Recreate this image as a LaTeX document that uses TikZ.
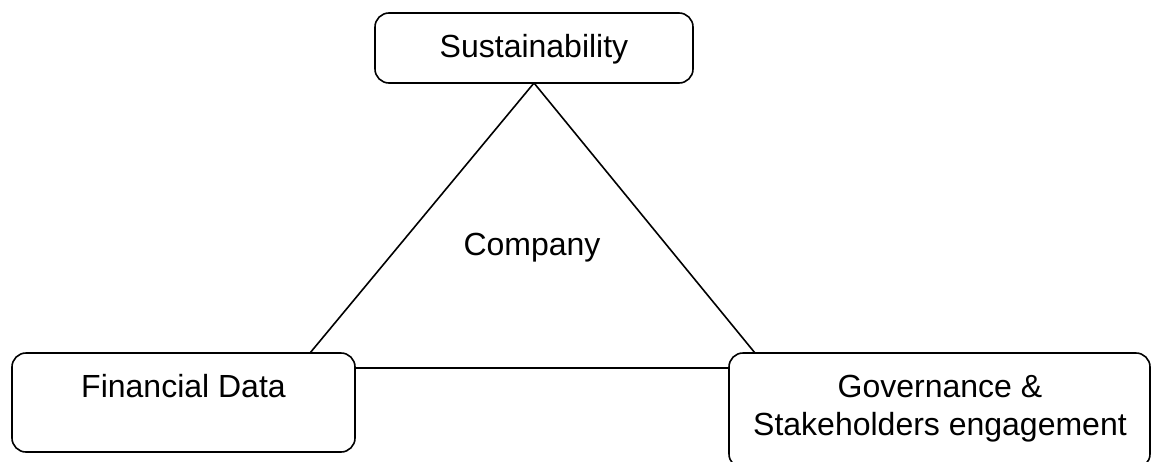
\documentclass[tikz,border=0pt]{standalone}
\usepackage{fontspec}
\setmainfont{Liberation Sans}
\usetikzlibrary{calc}
\begin{document}
\begin{tikzpicture}[x=1pt,y=-1pt,
  box/.style={draw, line width=1.6pt, rounded corners=14pt, inner sep=0pt, outer sep=0pt},
  txt/.style={inner sep=0pt, outer sep=0pt, anchor=base, font=\fontsize{32}{37}\selectfont},
  link/.style={line width=1.6pt}]
\fill[white] (0,0) rectangle (1153,461);
\useasboundingbox (0,0) rectangle (1153,461);
\node[box, minimum width=318pt, minimum height=70pt] (sus) at (534,48) {};
\node[box, minimum width=343pt, minimum height=99pt] (fin) at (183.5,402.5) {};
\node[box, minimum width=421pt, minimum height=115pt] (gov) at (939.5,410.5) {};
\node[txt] (sustxt) at (534,57) {Sustainability};
\node[txt] (fintxt) at (183.5,397) {Financial Data};
\node[txt] (govtxt1) at (940,397) {Governance \&};
\node[txt] (govtxt2) at (940,435) {Stakeholders engagement};
\node[txt] (comp) at (532,255) {Company};
\coordinate (finTop) at ($(fin.north east)+(-45,0)$);
\coordinate (govTop) at ($(gov.north west)+(26,0)$);
\draw[link] (sus.south) -- (finTop);
\draw[link] (sus.south) -- (govTop);
\draw[link] ($(fin.north east)+(0,15)$) -- ($(gov.north west)+(0,15)$);
\end{tikzpicture}
\end{document}
